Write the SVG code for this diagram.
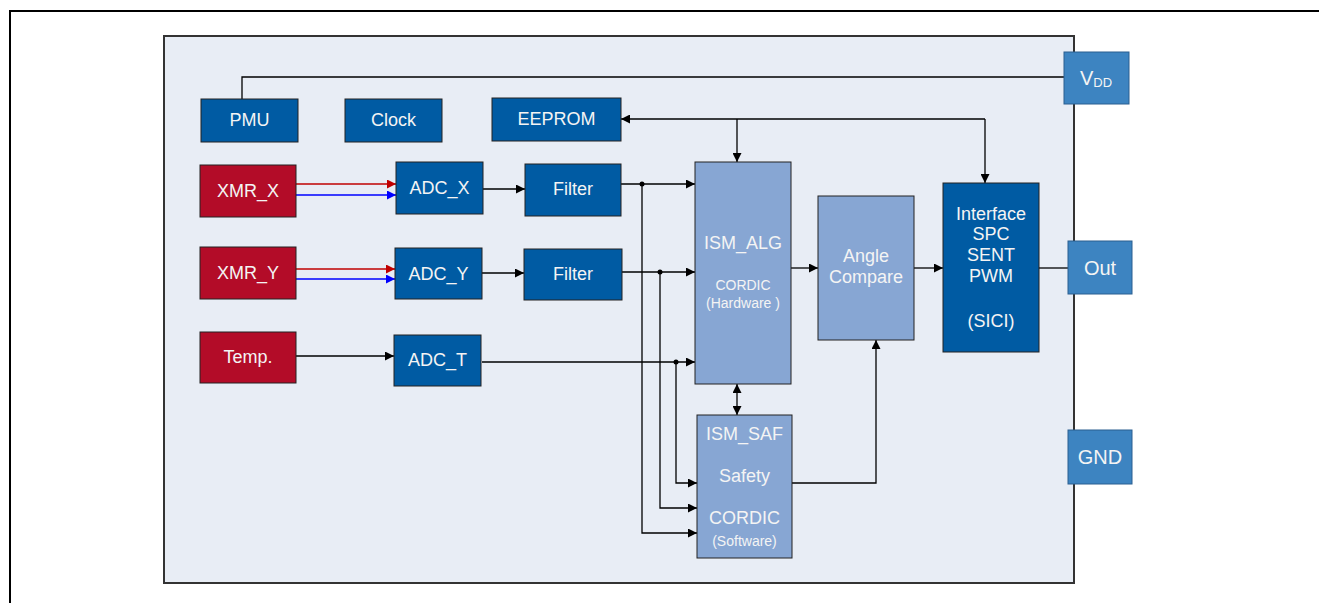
<svg xmlns="http://www.w3.org/2000/svg" width="1319" height="603" viewBox="0 0 1319 603">
<style>
text{font-family:"Liberation Sans",Arial,sans-serif;fill:#f4f4f4;text-anchor:middle}
.t{font-size:18px}
.s{font-size:14px}
.xs{font-size:14px}
.db{fill:#005BA3;stroke:#222;stroke-width:1}
.rd{fill:#B30C28;stroke:#222;stroke-width:1}
.lb{fill:#87A6D3;stroke:#222;stroke-width:1}
.pt{fill:#3D84C1;stroke:#2a5f90;stroke-width:1}
.c{fill:none;stroke:#000;stroke-width:1.3}
</style>
<defs>
<marker id="a" viewBox="0 0 10 10" refX="10" refY="5" markerWidth="10" markerHeight="9" markerUnits="userSpaceOnUse" orient="auto-start-reverse"><path d="M0,0L10,5L0,10z" fill="#000"/></marker>
<marker id="ar" viewBox="0 0 10 10" refX="10" refY="5" markerWidth="10" markerHeight="9" markerUnits="userSpaceOnUse" orient="auto"><path d="M0,0L10,5L0,10z" fill="#C00000"/></marker>
<marker id="ab" viewBox="0 0 10 10" refX="10" refY="5" markerWidth="10" markerHeight="9" markerUnits="userSpaceOnUse" orient="auto"><path d="M0,0L10,5L0,10z" fill="#0000FF"/></marker>
</defs>
<rect width="1319" height="603" fill="#fff"/>
<path d="M10,603V11H1319" fill="none" stroke="#000" stroke-width="2"/>
<rect id="chip" x="164" y="36" width="910" height="547" fill="#E8EDF5" stroke="#333" stroke-width="2"/>

<g id="connectors">
<path class="c" d="M242,99V77H1064"/>
<path class="c" d="M985,119H621" marker-end="url(#a)"/>
<path class="c" d="M737,119V162" marker-end="url(#a)"/>
<path class="c" d="M985,119V183" marker-end="url(#a)"/>
<path d="M296,184H396" stroke="#C00000" stroke-width="1.3" marker-end="url(#ar)"/>
<path d="M296,195H396" stroke="#0000FF" stroke-width="1.3" marker-end="url(#ab)"/>
<path d="M296,269H395" stroke="#C00000" stroke-width="1.3" marker-end="url(#ar)"/>
<path d="M296,279H395" stroke="#0000FF" stroke-width="1.3" marker-end="url(#ab)"/>
<path class="c" d="M483,189H525" marker-end="url(#a)"/>
<path class="c" d="M482,273H524" marker-end="url(#a)"/>
<path class="c" d="M296,356H394" marker-end="url(#a)"/>
<path class="c" d="M621,184H695" marker-end="url(#a)"/>
<path class="c" d="M622,272H695" marker-end="url(#a)"/>
<path class="c" d="M482,362H695" marker-end="url(#a)"/>
<path class="c" d="M642,184V533H697" marker-end="url(#a)"/>
<path class="c" d="M660,272V508H697" marker-end="url(#a)"/>
<path class="c" d="M676,362V483H697" marker-end="url(#a)"/>
<circle cx="642" cy="184" r="2.5"/>
<circle cx="660" cy="272" r="2.5"/>
<circle cx="676" cy="362" r="2.5"/>
<path class="c" d="M737,384V415" marker-start="url(#a)" marker-end="url(#a)"/>
<path class="c" d="M791,268H818" marker-end="url(#a)"/>
<path class="c" d="M914,268H943" marker-end="url(#a)"/>
<path class="c" d="M1039,268H1068"/>
<path class="c" d="M792,483H876V340" marker-end="url(#a)"/>
</g>

<g id="pmu"><rect class="db" x="201" y="99" width="97" height="43"/><text class="t" x="249.5" y="126">PMU</text></g>
<g id="clock"><rect class="db" x="345" y="99" width="97" height="43"/><text class="t" x="393.5" y="126">Clock</text></g>
<g id="eeprom"><rect class="db" x="492" y="98" width="129" height="43"/><text class="t" x="556.5" y="125">EEPROM</text></g>
<g id="xmr_x"><rect class="rd" x="200" y="165" width="96" height="52"/><text class="t" x="248" y="197">XMR_X</text></g>
<g id="adc_x"><rect class="db" x="396" y="162" width="87" height="52"/><text class="t" x="439.5" y="194">ADC_X</text></g>
<g id="filter_x"><rect class="db" x="525" y="164" width="96" height="52"/><text class="t" x="573" y="195">Filter</text></g>
<g id="xmr_y"><rect class="rd" x="200" y="247" width="96" height="52"/><text class="t" x="248" y="279">XMR_Y</text></g>
<g id="adc_y"><rect class="db" x="395" y="248" width="87" height="51"/><text class="t" x="438.5" y="280">ADC_Y</text></g>
<g id="filter_y"><rect class="db" x="524" y="249" width="98" height="51"/><text class="t" x="573" y="280">Filter</text></g>
<g id="temp"><rect class="rd" x="200" y="332" width="96" height="51"/><text class="t" x="248" y="363">Temp.</text></g>
<g id="adc_t"><rect class="db" x="394" y="335" width="87" height="51"/><text class="t" x="437.5" y="366">ADC_T</text></g>
<g id="ism_alg"><rect class="lb" x="695" y="162" width="96" height="222"/>
<text class="t" x="743" y="249">ISM_ALG</text><text class="s" x="743" y="290">CORDIC</text><text class="xs" x="743" y="308">(Hardware )</text></g>
<g id="ism_saf"><rect class="lb" x="697" y="415" width="95" height="143"/>
<text class="t" x="744.5" y="440">ISM_SAF</text><text class="t" x="744.5" y="482">Safety</text><text class="t" x="744.5" y="524">CORDIC</text><text class="xs" x="744.5" y="546">(Software)</text></g>
<g id="angle"><rect class="lb" x="818" y="196" width="96" height="144"/>
<text class="t" x="866" y="262">Angle</text><text class="t" x="866" y="283">Compare</text></g>
<g id="interface"><rect class="db" x="943" y="183" width="96" height="169"/>
<text class="t" x="991" y="220">Interface</text><text class="t" x="991" y="240">SPC</text><text class="t" x="991" y="261">SENT</text><text class="t" x="991" y="282">PWM</text><text class="t" x="991" y="327">(SICI)</text></g>
<g id="vdd"><rect class="pt" x="1064" y="52" width="65" height="52"/><text x="1096" y="85" font-size="20">V<tspan font-size="13" dy="2">DD</tspan></text></g>
<g id="out"><rect class="pt" x="1068" y="241" width="64" height="53"/><text x="1100" y="275" font-size="20">Out</text></g>
<g id="gnd"><rect class="pt" x="1068" y="430" width="64" height="54"/><text x="1100" y="464" font-size="20">GND</text></g>
</svg>
